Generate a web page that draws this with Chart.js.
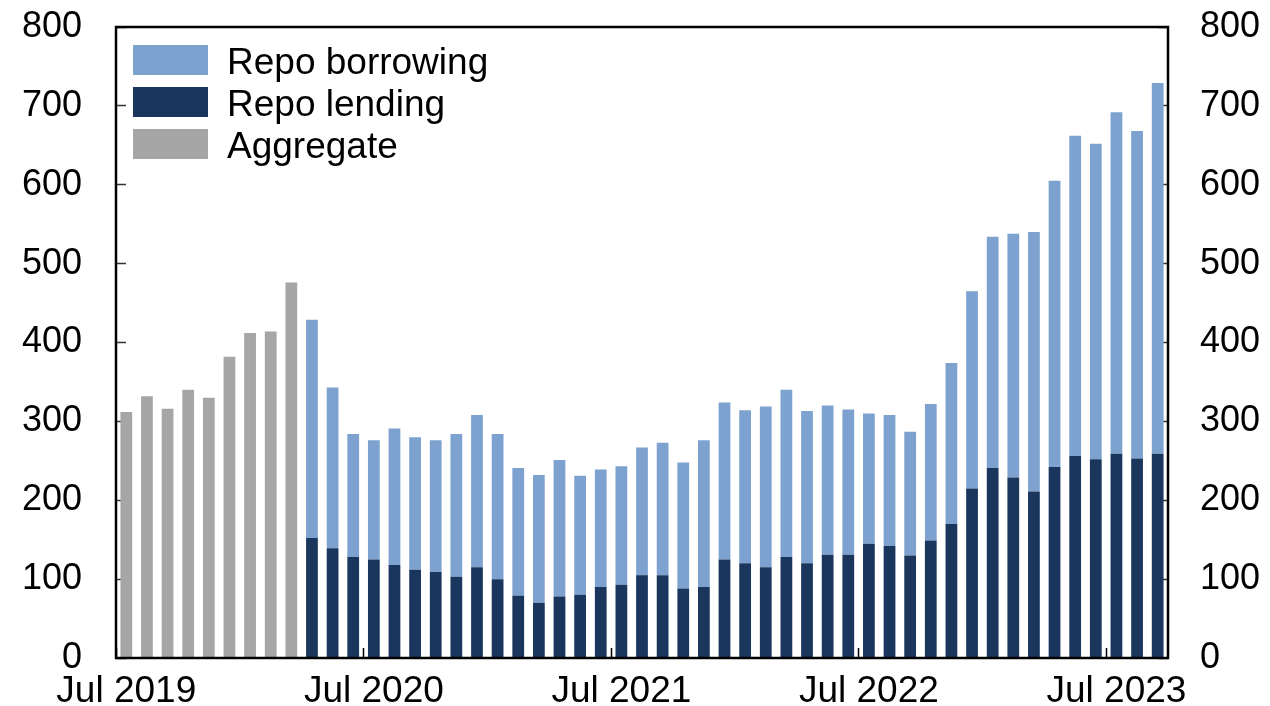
<!DOCTYPE html>
<html>
<head>
<meta charset="utf-8">
<title>Repo borrowing and lending</title>
<script src="https://cdn.jsdelivr.net/npm/chart.js@4.4.1/dist/chart.umd.min.js"></script>
<style>
  html, body { margin: 0; padding: 0; background: #fff; }
  canvas { display: block; }
</style>
</head>
<body>
<canvas id="chart" width="1270" height="706"></canvas>
<script>
// Monthly categories, Jul 2019 - Sep 2023
const monthNames = ['Jan', 'Feb', 'Mar', 'Apr', 'May', 'Jun', 'Jul', 'Aug', 'Sep', 'Oct', 'Nov', 'Dec']
const months = []
for (let y = 2019; y <= 2023; y++) {
  for (let m = 0; m < 12; m++) {
    if ((y === 2019 && m < 6) || (y === 2023 && m > 8)) continue
    months.push(monthNames[m] + ' ' + y)
  }
}

// Aggregate only reported until Mar 2020
const aggregate = [
  312, 332, 316, 340, 330, 382, 412, 414, 476,
  null, null, null, null, null, null, null, null, null, null, null, null,
  null, null, null, null, null, null, null, null, null, null, null, null,
  null, null, null, null, null, null, null, null, null, null, null, null,
  null, null, null, null, null, null,
]

const repoLending = [
  null, null, null, null, null, null, null, null, null,
  152, 139, 128, 125, 118, 112, 109, 103, 115, 100, 79, 70,
  78, 80, 90, 93, 105, 105, 88, 90, 125, 120, 115, 128,
  120, 131, 131, 145, 142, 130, 149, 170, 215, 241, 229, 211,
  242, 256, 252, 259, 253, 259,
]

const repoBorrowing = [
  null, null, null, null, null, null, null, null, null,
  277, 204, 156, 151, 173, 168, 167, 181, 193, 184, 162, 162,
  173, 151, 149, 150, 162, 168, 160, 186, 199, 194, 204, 212,
  193, 189, 184, 165, 166, 157, 173, 204, 250, 293, 309, 329,
  363, 406, 400, 433, 415, 470,
]

const yTicks = [0, 100, 200, 300, 400, 500, 600, 700, 800]

const colorBorrowing = '#7da2d0'
const colorLending = '#1a365d'
const colorAggregate = '#a6a6a6'

Chart.defaults.font = {
  family: '"Liberation Sans", Arial, Helvetica, sans-serif',
  size: 36,
  lineHeight: 1.2,
}
Chart.defaults.color = '#000'

// Рамка вокруг области графика
const chartAreaBorder = {
  id: 'chartAreaBorder',
  afterDatasetsDraw(chart) {
    const { ctx, chartArea: { left, top, width, height } } = chart
    ctx.save()
    ctx.strokeStyle = '#000'
    ctx.lineWidth = 2.5
    ctx.strokeRect(left, top, width, height)
    ctx.restore()
  },
}

// Легенда внутри области графика, слева сверху
const insideLegend = {
  id: 'insideLegend',
  afterDraw(chart) {
    const { ctx, chartArea: { left, top } } = chart
    const order = [1, 0, 2]
    ctx.save()
    ctx.font = '37px "Liberation Sans", Arial, sans-serif'
    ctx.textBaseline = 'alphabetic'
    ctx.textAlign = 'left'
    order.forEach((dsIndex, row) => {
      const ds = chart.data.datasets[dsIndex]
      const y = top + 18 + row * 42
      ctx.fillStyle = ds.backgroundColor
      ctx.fillRect(left + 17, y, 75, 30)
      ctx.fillStyle = '#000'
      ctx.fillText(ds.label, left + 111, y + 29)
    })
    ctx.restore()
  },
}

// Убираем автоматические отступы под крайние подписи
function resetPadding(scale) {
  scale.paddingTop = 0
  scale.paddingBottom = 0
  scale.paddingLeft = 0
  scale.paddingRight = 0
}

const yScale = (position, padding, width) => ({
  type: 'linear',
  position: position,
  stacked: true,
  min: 0,
  max: 800,
  afterBuildTicks(scale) {
    scale.ticks = yTicks.map((v) => ({ value: v }))
  },
  afterFit(scale) {
    scale.width = width
    resetPadding(scale)
  },
  border: { display: false },
  grid: {
    drawOnChartArea: false,
    drawTicks: true,
    tickLength: -10,
    tickColor: '#333',
    tickWidth: 1.5,
  },
  ticks: {
    padding: padding,
    color: '#000',
  },
})

new Chart(document.getElementById('chart'), {
  type: 'bar',
  data: {
    labels: months,
    datasets: [
      {
        label: 'Repo lending',
        data: repoLending,
        backgroundColor: colorLending,
      },
      {
        label: 'Repo borrowing',
        data: repoBorrowing,
        backgroundColor: colorBorrowing,
      },
      {
        label: 'Aggregate',
        data: aggregate,
        backgroundColor: colorAggregate,
      },
    ],
  },
  options: {
    responsive: false,
    animation: false,
    barPercentage: 0.57,
    categoryPercentage: 1,
    layout: {
      padding: { top: 27, left: 0, right: 0, bottom: 0 },
    },
    plugins: {
      legend: { display: false },
      tooltip: { enabled: false },
    },
    scales: {
      x: {
        stacked: true,
        afterFit(scale) {
          scale.height = 48
          resetPadding(scale)
        },
        border: { display: false },
        grid: {
          offset: true,
          drawOnChartArea: false,
          drawTicks: true,
          tickLength: -10,
          tickWidth: 1.5,
          // Засечки только перед июлем каждого года
          tickColor: (ctx) =>
            months[ctx.index] && months[ctx.index].startsWith('Jul') ? '#000' : 'rgba(0,0,0,0)',
        },
        ticks: {
          autoSkip: false,
          maxRotation: 0,
          padding: 22,
          font: { size: 37 },
          callback: (val, index) => (months[index].startsWith('Jul') ? months[index] : ''),
        },
      },
      y: yScale('left', 44, 116),
      y2: yScale('right', 42, 102),
    },
  },
  plugins: [chartAreaBorder, insideLegend],
})
</script>
</body>
</html>
